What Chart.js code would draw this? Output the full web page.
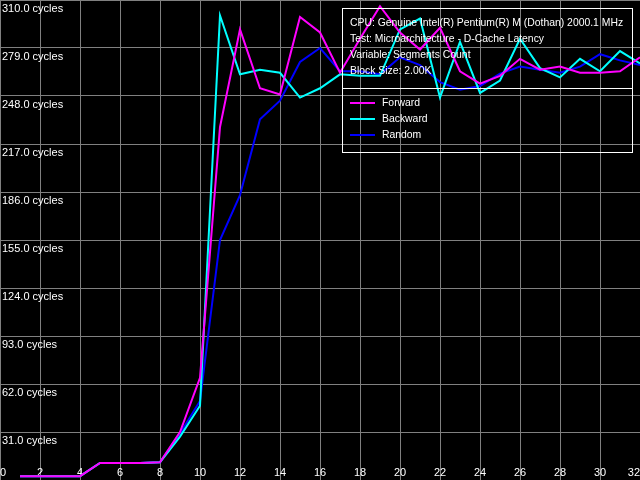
<!DOCTYPE html>
<html>
<head>
<meta charset="utf-8">
<script src="https://cdn.jsdelivr.net/npm/chart.js@4"></script>
<style>
    html, body { margin: 0; padding: 0; background: #000; }
    #wrap { width: 640px; height: 480px; }
</style>
</head>
<body>
<div id="wrap"><canvas id="latency-chart" width="640" height="480"></canvas></div>
<script>
// segments count (x) and latency in cycles per series
const segments = [1, 2, 3, 4, 5, 6, 7, 8, 9, 10, 11, 12, 13, 14, 15, 16,
    17, 18, 19, 20, 21, 22, 23, 24, 25, 26, 27, 28, 29, 30, 31, 32];
const forward = [2.5, 2.5, 2.5, 2.5, 11, 11, 11, 11.5, 31, 66, 228, 291, 253, 249, 299, 289,
    263, 285, 306, 289, 278, 292, 264, 256, 261, 272, 265, 267, 263, 263, 264, 273];
const backward = [2.5, 2.5, 2.5, 2.5, 11, 11, 11, 11.5, 28, 48, 300, 262, 265, 263, 247, 253,
    262, 261, 261, 291, 298, 247, 283, 250, 258, 285, 266, 260, 272, 264, 277, 269];
const random = [2.5, 2.5, 2.5, 2.5, 11, 11, 11, 11.5, 30, 51, 155, 184, 233, 245, 270, 279,
    264, 264, 262, 273, 268, 257, 252, 254.5, 262.5, 267, 265, 263, 267, 275, 271, 268];

const xTicks = [0, 2, 4, 6, 8, 10, 12, 14, 16, 18, 20, 22, 24, 26, 28, 30, 32];
const yTicks = [0, 31, 62, 93, 124, 155, 186, 217, 248, 279, 310];

const infoLines = [
    'CPU: Genuine Intel(R) Pentium(R) M (Dothan) 2000.1 MHz',
    'Test: Microarchitecture - D-Cache Latency',
    'Variable: Segments Count',
    'Block Size: 2.00K'
];

function toPoints(values) {
    return values.map((v, i) => ({ x: segments[i], y: v }));
}

// info box + legend drawn on top of the plot
const infoBox = {
    id: 'infoBox',
    afterDraw(chart) {
        const ctx = chart.ctx;
        ctx.save();
        ctx.strokeStyle = '#ffffff';
        ctx.lineWidth = 1;
        ctx.strokeRect(342.5, 8.5, 290, 144);
        ctx.beginPath();
        ctx.moveTo(342.5, 88.5);
        ctx.lineTo(632.5, 88.5);
        ctx.stroke();

        ctx.fillStyle = '#ffffff';
        ctx.font = '10.4px "Liberation Sans", Arial, sans-serif';
        ctx.textBaseline = 'middle';
        ctx.textAlign = 'left';
        infoLines.forEach((line, i) => {
            ctx.fillText(line, 350, 23 + i * 16);
        });

        chart.data.datasets.forEach((ds, i) => {
            const y = 103 + i * 16;
            ctx.strokeStyle = ds.borderColor;
            ctx.lineWidth = 2;
            ctx.beginPath();
            ctx.moveTo(350, y);
            ctx.lineTo(375, y);
            ctx.stroke();
            ctx.fillStyle = '#ffffff';
            ctx.fillText(ds.label, 382, y);
        });
        ctx.restore();
    }
};

const ctx = document.getElementById('latency-chart').getContext('2d');

new Chart(ctx, {
    type: 'line',
    data: {
        datasets: [{
            label: 'Forward',
            data: toPoints(forward),
            borderColor: '#ff00ff',
            borderWidth: 2,
            pointRadius: 0,
            tension: 0
        }, {
            label: 'Backward',
            data: toPoints(backward),
            borderColor: '#00ffff',
            borderWidth: 2,
            pointRadius: 0,
            tension: 0
        }, {
            label: 'Random',
            data: toPoints(random),
            borderColor: '#0000ff',
            borderWidth: 2,
            pointRadius: 0,
            tension: 0
        }]
    },
    options: {
        responsive: false,
        animation: false,
        layout: { padding: 0 },
        font: { family: '"Liberation Sans", Arial, sans-serif', size: 11 },
        plugins: {
            legend: { display: false },
            tooltip: { enabled: false }
        },
        scales: {
            x: {
                type: 'linear',
                min: 0,
                max: 32,
                afterBuildTicks: (scale) => {
                    scale.ticks = xTicks.map(v => ({ value: v }));
                },
                afterFit: (scale) => {
                    scale.height = 0;
                    scale.paddingLeft = 0;
                    scale.paddingRight = 0;
                },
                ticks: {
                    mirror: true,
                    padding: 0,
                    align: 'inner',
                    maxRotation: 0,
                    autoSkip: false,
                    color: '#ffffff',
                    font: { family: '"Liberation Sans", Arial, sans-serif', size: 11 },
                    callback: (value) => String(value)
                },
                grid: { color: '#808080', lineWidth: 1, drawTicks: false },
                border: { display: false }
            },
            y: {
                type: 'linear',
                min: 0,
                max: 310,
                afterBuildTicks: (scale) => {
                    scale.ticks = yTicks.map(v => ({ value: v }));
                },
                afterFit: (scale) => {
                    scale.width = 0;
                    scale.paddingTop = 0;
                    scale.paddingBottom = 0;
                },
                ticks: {
                    mirror: true,
                    padding: 2,
                    labelOffset: 9,
                    autoSkip: false,
                    color: '#ffffff',
                    font: { family: '"Liberation Sans", Arial, sans-serif', size: 11 },
                    callback: (value) => value === 0 ? '' : value.toFixed(1) + ' cycles'
                },
                grid: { color: '#808080', lineWidth: 1, drawTicks: false },
                border: { display: false }
            }
        }
    },
    plugins: [infoBox]
});
</script>
</body>
</html>
